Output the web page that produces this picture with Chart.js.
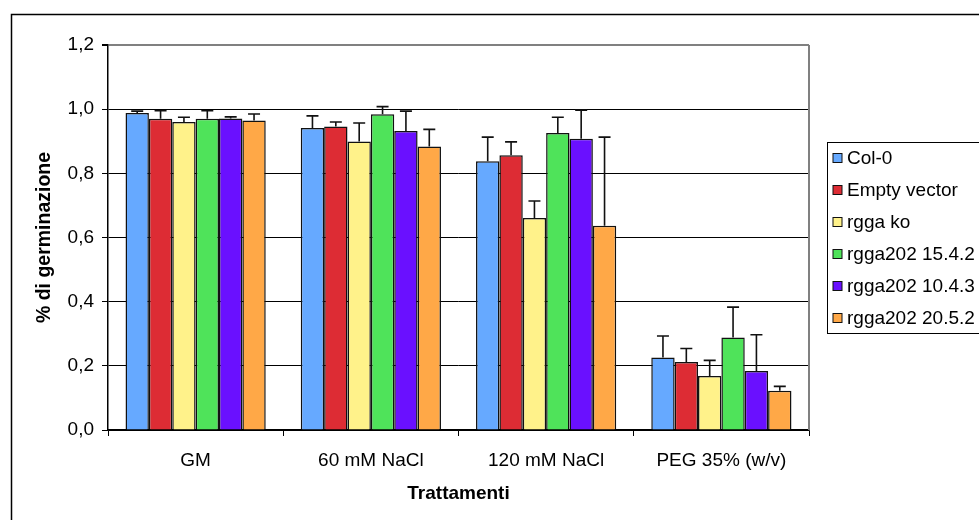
<!DOCTYPE html>
<html>
<head>
<meta charset="utf-8">
<title>% di germinazione</title>
<script src="https://cdn.jsdelivr.net/npm/chart.js@4.4.1/dist/chart.umd.min.js"></script>
<style>
  html, body { margin: 0; padding: 0; background: #fff; }
  #wrap { width: 979px; height: 520px; position: relative; }
</style>
</head>
<body>
<div id="wrap"><canvas id="germChart" width="979" height="520"></canvas></div>
<script>
// --- dati ---
const categories = ['GM', '60 mM NaCl', '120 mM NaCl', 'PEG 35% (w/v)'];
const yTicks = [0, 0.2, 0.4, 0.6, 0.8, 1.0, 1.2];
const yTitle = '% di germinazione';

const col0 = [0.988, 0.941, 0.838, 0.226];
const col0Err = [0.006, 0.038, 0.075, 0.067];
const emptyVector = [0.970, 0.946, 0.856, 0.212];
const emptyVectorErr = [0.025, 0.014, 0.042, 0.042];
const rggaKo = [0.960, 0.899, 0.661, 0.168];
const rggaKoErr = [0.015, 0.058, 0.053, 0.049];
const rgga15 = [0.970, 0.984, 0.926, 0.288];
const rgga15Err = [0.025, 0.024, 0.049, 0.095];
const rgga10 = [0.971, 0.932, 0.908, 0.184];
const rgga10Err = [0.005, 0.062, 0.089, 0.113];
const rgga20 = [0.965, 0.884, 0.637, 0.122];
const rgga20Err = [0.020, 0.053, 0.276, 0.014];

const FONT = '"Liberation Sans", Arial, sans-serif';

function serie(label, data, err, color) {
  return {
    label: label, data: data, errors: err,
    backgroundColor: color, borderColor: '#111', borderWidth: 1.5,
    categoryPercentage: 0.8, barPercentage: 1.0
  };
}

// cornice esterna (tagliata a destra e in basso) + bordo area grafico
const framePlugin = {
  id: 'frame',
  beforeDraw(chart) {
    const ctx = chart.ctx;
    ctx.save();
    ctx.fillStyle = '#fff';
    ctx.fillRect(0, 0, chart.width, chart.height);
    ctx.strokeStyle = '#000';
    ctx.lineWidth = 1.5;
    ctx.strokeRect(11.5, 14.5, 2000, 2000);
    ctx.restore();
  },
  afterDraw(chart) {
    const a = chart.chartArea, ctx = chart.ctx;
    ctx.save();
    ctx.strokeStyle = '#808080';
    ctx.lineWidth = 2;
    ctx.beginPath();
    ctx.moveTo(a.right, a.top);
    ctx.lineTo(a.right, a.bottom);
    ctx.stroke();
    // titolo asse y
    ctx.translate(45, (a.top + a.bottom) / 2);
    ctx.rotate(-Math.PI / 2);
    ctx.font = 'bold 19.5px ' + FONT;
    ctx.fillStyle = '#000';
    ctx.textAlign = 'center';
    ctx.textBaseline = 'middle';
    ctx.fillText(yTitle, 0, 0);
    ctx.restore();
  }
};

// barre di errore (solo verso l'alto)
const errorBarPlugin = {
  id: 'errorBars',
  afterDatasetsDraw(chart) {
    const ctx = chart.ctx, yScale = chart.scales.y;
    ctx.save();
    ctx.strokeStyle = '#111';
    ctx.lineWidth = 1.6;
    chart.data.datasets.forEach((ds, i) => {
      const meta = chart.getDatasetMeta(i);
      meta.data.forEach((bar, j) => {
        const top = yScale.getPixelForValue(ds.data[j] + ds.errors[j]);
        ctx.beginPath();
        ctx.moveTo(bar.x, bar.y);
        ctx.lineTo(bar.x, top);
        ctx.moveTo(bar.x - 6, top);
        ctx.lineTo(bar.x + 6, top);
        ctx.stroke();
      });
    });
    ctx.restore();
  }
};

// legenda a destra, disegnata dai dataset
const legendPlugin = {
  id: 'boxLegend',
  afterDraw(chart) {
    const ctx = chart.ctx;
    const left = 827, top = 142, bottom = 333, rowH = 32, firstY = 158;
    ctx.save();
    ctx.strokeStyle = '#000';
    ctx.lineWidth = 1;
    ctx.strokeRect(left + 0.5, top + 0.5, 400, bottom - top);
    ctx.font = '19px ' + FONT;
    ctx.textBaseline = 'middle';
    chart.data.datasets.forEach((ds, i) => {
      const y = firstY + i * rowH;
      ctx.fillStyle = ds.backgroundColor;
      ctx.fillRect(833, y - 4.5, 9, 9);
      ctx.strokeStyle = '#111';
      ctx.strokeRect(833, y - 4.5, 9, 9);
      ctx.fillStyle = '#000';
      ctx.fillText(ds.label, 847, y + 1);
    });
    ctx.restore();
  }
};

new Chart(document.getElementById('germChart').getContext('2d'), {
  type: 'bar',
  data: {
    labels: categories,
    datasets: [
      serie('Col-0', col0, col0Err, '#66a9ff'),
      serie('Empty vector', emptyVector, emptyVectorErr, '#dd2c34'),
      serie('rgga ko', rggaKo, rggaKoErr, '#fff28a'),
      serie('rgga202 15.4.2', rgga15, rgga15Err, '#4fe35a'),
      serie('rgga202 10.4.3', rgga10, rgga10Err, '#6a10ff'),
      serie('rgga202 20.5.2', rgga20, rgga20Err, '#ffa847')
    ]
  },
  options: {
    responsive: false,
    animation: false,
    devicePixelRatio: 1,
    layout: { padding: { left: 34, top: 45, right: 170, bottom: 15 } },
    plugins: { legend: { display: false }, tooltip: { enabled: false } },
    scales: {
      x: {
        afterFit: (s) => { s.height = 75; },
        grid: { drawOnChartArea: false, tickLength: 6, tickColor: '#000', offset: true },
        border: { color: '#000', width: 1.5 },
        ticks: { color: '#000', padding: 13, font: { family: FONT, size: 19 } },
        title: { display: true, text: 'Trattamenti', color: '#000', padding: 0,
                 font: { family: FONT, size: 19, weight: 'bold' } }
      },
      y: {
        min: 0, max: 1.2,
        afterFit: (s) => { s.width = 74; },
        afterBuildTicks: (s) => { s.ticks = yTicks.map(v => ({ value: v })); },
        grid: {
          color: (c) => c.tick && c.tick.value === 1.2 ? '#808080' : '#000',
          lineWidth: (c) => c.tick && c.tick.value === 1.2 ? 2 : 1,
          tickLength: 6, tickColor: '#000'
        },
        border: { color: '#000', width: 1.5 },
        ticks: {
          color: '#000', padding: 8, font: { family: FONT, size: 19 },
          callback: (v) => Number(v).toFixed(1).replace('.', ',')
        }
      }
    }
  },
  plugins: [framePlugin, errorBarPlugin, legendPlugin]
});
</script>
</body>
</html>
